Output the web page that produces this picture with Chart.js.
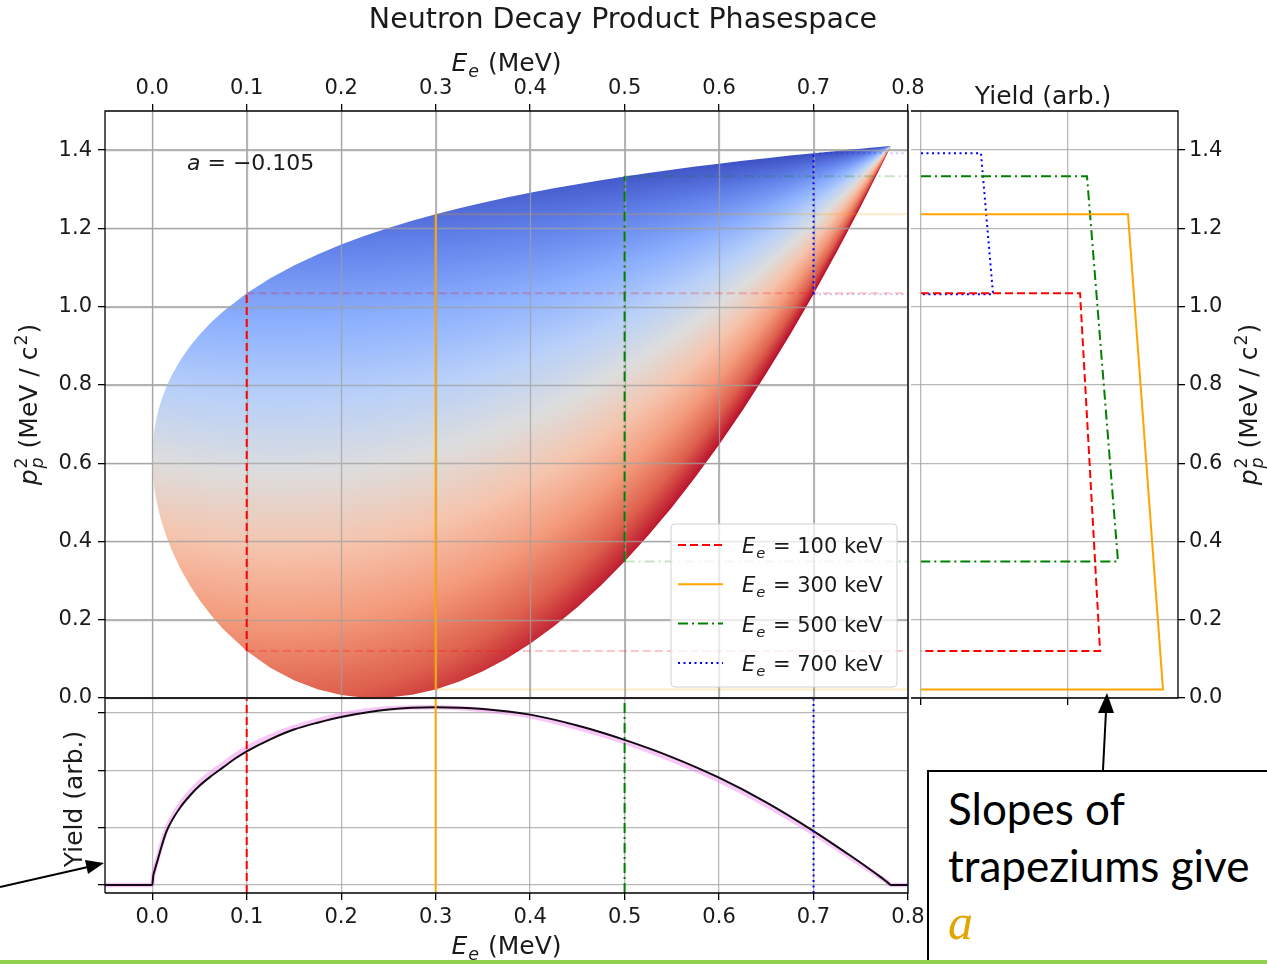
<!DOCTYPE html>
<html>
<head>
<meta charset="utf-8">
<title>Neutron Decay Product Phasespace</title>
<script src="https://cdn.jsdelivr.net/npm/chart.js@4.4.1/dist/chart.umd.min.js"></script>
<style>
  html, body { margin: 0; padding: 0; background: #fff; }
  #page { position: relative; width: 1267px; height: 964px; overflow: hidden; }
  #page canvas { position: absolute; left: 0; top: 0; }
  #note {
    position: absolute; left: 927px; top: 770px; width: 400px; height: 192px;
    box-sizing: border-box; border: 2px solid #000; background: #fff;
    padding: 8px 0 0 19px; color: #000;
    font-family: Lato, "Open Sans", sans-serif; font-size: 44px; line-height: 57px;
  }
  #note .a { font-family: "Liberation Serif", "DejaVu Serif", serif; font-style: italic; font-size: 50px; color: #e3a600; }
  #arrows { position: absolute; left: 0; top: 0; }
  #rule { position: absolute; left: 0; top: 960px; width: 1267px; height: 4px; background: #92d050; }
</style>
</head>
<body>
<div id="page">
  <canvas id="yieldChart" width="1267" height="964"></canvas>
  <canvas id="trapChart" width="1267" height="964"></canvas>
  <canvas id="phaseChart" width="1267" height="964"></canvas>
  <div id="note">Slopes of<br>trapeziums give<br><span class="a">a</span></div>
  <svg id="arrows" width="1267" height="964">
    <line x1="1103" y1="770" x2="1106" y2="711" stroke="#000" stroke-width="2"/>
    <polygon points="1107,693 1114,713 1098,713" fill="#000"/>
    <line x1="0" y1="887" x2="88" y2="867" stroke="#000" stroke-width="2"/>
    <polygon points="104,863 88,874 85,860" fill="#000"/>
  </svg>
  <div id="rule"></div>
</div>
<script>
// ---- data ----
const xTicks = [0, 0.1, 0.2, 0.3, 0.4, 0.5, 0.6, 0.7, 0.8];
const pTicks = [0, 0.2, 0.4, 0.6, 0.8, 1.0, 1.2, 1.4];
const yieldTicks = [0, 1, 2, 3];
const trapTicks = [0, 1];

// edge of the allowed region: E_e (MeV) and upper / lower p_p^2
const phaseE = [0, 0.0005, 0.001, 0.0025, 0.005, 0.0075, 0.01, 0.015, 0.02, 0.03,
  0.04, 0.05, 0.0625, 0.075, 0.1, 0.125, 0.15, 0.175, 0.2, 0.225,
  0.237, 0.25, 0.275, 0.3, 0.325, 0.35, 0.375, 0.4, 0.425, 0.45,
  0.475, 0.5, 0.525, 0.55, 0.575, 0.6, 0.625, 0.65, 0.675, 0.7,
  0.725, 0.74, 0.75, 0.76, 0.77, 0.775, 0.779, 0.782];
const phaseUpper = [0.6115, 0.6466, 0.6609, 0.6891, 0.7203, 0.7437, 0.7632, 0.7951, 0.8216, 0.8643,
  0.8989, 0.9283, 0.9600, 0.9877, 1.0343, 1.0727, 1.1052, 1.1336, 1.1586, 1.1809,
  1.1907, 1.2010, 1.2193, 1.2361, 1.2513, 1.2656, 1.2787, 1.2910, 1.3023, 1.3131,
  1.3232, 1.3326, 1.3414, 1.3498, 1.3579, 1.3654, 1.3726, 1.3795, 1.3860, 1.3922,
  1.3981, 1.4016, 1.4038, 1.4061, 1.4083, 1.4092, 1.4102, 1.4107];
const phaseLower = [0.6115, 0.5759, 0.5610, 0.5313, 0.4975, 0.4715, 0.4494, 0.4125, 0.3814, 0.3298,
  0.2872, 0.2505, 0.2109, 0.1766, 0.1204, 0.0775, 0.0452, 0.0223, 0.0077, 0.0008,
  0.0000, 0.0010, 0.0081, 0.0218, 0.0419, 0.0681, 0.1004, 0.1385, 0.1825, 0.2322,
  0.2876, 0.3486, 0.4150, 0.4869, 0.5645, 0.6472, 0.7355, 0.8290, 0.9279, 1.0320,
  1.1415, 1.2098, 1.2562, 1.3037, 1.3519, 1.3762, 1.3959, 1.4107];

// selected electron energies
const cutE = [0.1, 0.3, 0.5, 0.7];
const cutLabels = ['100 keV', '300 keV', '500 keV', '700 keV'];
const cutTop = [1.034, 1.236, 1.333, 1.392];
const cutBottom = [0.120, 0.022, 0.349, 1.032];
// trapezium right edges (yield at top and at bottom)
const trapTopYield = [1.082, 1.408, 1.129, 0.408];
const trapBottomYield = [1.218, 1.646, 1.340, 0.490];

// electron energy spectrum (bottom panel)
const yieldE = [-0.05, 0, 0.001, 0.003, 0.006, 0.01, 0.015, 0.02, 0.03, 0.04,
  0.05, 0.0625, 0.075, 0.0875, 0.1, 0.125, 0.15, 0.175, 0.2, 0.25,
  0.3, 0.35, 0.4, 0.45, 0.5, 0.55, 0.6, 0.65, 0.7, 0.74,
  0.76, 0.77, 0.778, 0.782, 0.8];
const yieldMain = [0, 0, 0.15, 0.28, 0.45, 0.68, 0.93, 1.10, 1.36, 1.56,
  1.73, 1.90, 2.05, 2.20, 2.33, 2.54, 2.71, 2.83, 2.93, 3.06,
  3.10, 3.07, 2.97, 2.78, 2.53, 2.23, 1.87, 1.44, 0.94, 0.50,
  0.27, 0.15, 0.05, 0, 0];
const yieldShade = [0, 0, 0.16, 0.30, 0.48, 0.72, 0.97, 1.15, 1.42, 1.62,
  1.79, 1.96, 2.11, 2.26, 2.39, 2.59, 2.75, 2.87, 2.97, 3.08,
  3.10, 3.05, 2.94, 2.74, 2.49, 2.18, 1.82, 1.39, 0.90, 0.47,
  0.25, 0.14, 0.05, 0, 0];

const aText = '\u22120.105';

// ---- styles ----
const cutStyles = [
  { rgb: '255,0,0', dash: [8, 4] },
  { rgb: '255,165,0', dash: [] },
  { rgb: '0,128,0', dash: [10, 4, 2, 4] },
  { rgb: '0,0,255', dash: [2, 3.5] },
];
const GRID = 'rgba(160,160,160,0.75)';
const FONT = 'DejaVu Sans';
const W = 1267, H = 964;
const TOP = 111;

// colour field constants (only used for shading the region)
const ME = 0.511, QV = 0.782;
const CW = [[59,76,192],[98,130,234],[141,176,254],[184,208,249],[221,221,221],
            [245,196,173],[244,154,123],[222,96,77],[180,4,38]];

function coolwarm(s) {
  s = Math.min(1, Math.max(0, s)) * 8;
  const i = Math.min(7, Math.floor(s)), f = s - i, a = CW[i], b = CW[i + 1];
  return [a[0] + (b[0] - a[0]) * f, a[1] + (b[1] - a[1]) * f, a[2] + (b[2] - a[2]) * f];
}

function phaseFill(context) {
  const chart = context.chart;
  const area = chart.chartArea;
  if (!area) return 'rgba(0,0,0,0)';
  if (chart.$phasePattern) return chart.$phasePattern;
  const xs = chart.scales.x, ys = chart.scales.y;
  const off = document.createElement('canvas');
  off.width = chart.width; off.height = chart.height;
  const octx = off.getContext('2d');
  const img = octx.createImageData(off.width, off.height);
  const vmax = Math.sqrt(QV * QV + 2 * QV * ME) / (QV + ME);
  for (let py = Math.floor(area.top); py < Math.ceil(area.bottom); py++) {
    const P = ys.getValueForPixel(py + 0.5);
    for (let px = Math.floor(area.left); px < Math.ceil(area.right); px++) {
      const e = xs.getValueForPixel(px + 0.5);
      if (e <= 0 || e >= QV) continue;
      const pe = Math.sqrt(e * e + 2 * e * ME), nu = QV - e;
      let c = (P - pe * pe - nu * nu) / (2 * pe * nu);
      c = Math.max(-1, Math.min(1, c));
      const rgb = coolwarm(0.5 * (1 - (pe / (e + ME)) * c / vmax));
      const k = 4 * (py * off.width + px);
      img.data[k] = rgb[0]; img.data[k + 1] = rgb[1]; img.data[k + 2] = rgb[2]; img.data[k + 3] = 255;
    }
  }
  octx.putImageData(img, 0, 0);
  chart.$phasePattern = chart.ctx.createPattern(off, 'no-repeat');
  return chart.$phasePattern;
}

// mixed italic / sub / superscript text
function richText(ctx, parts, x, y, size, align, rot, color) {
  const font = (s, it) => (it ? 'italic ' : '') + s + 'px "' + FONT + '"';
  const widths = parts.map(p => {
    ctx.font = font(size, p.i);
    const w = ctx.measureText(p.t).width;
    let extra = 0;
    if (p.sub) { ctx.font = font(size * 0.7, p.i); extra = Math.max(extra, ctx.measureText(p.sub).width + 2); }
    if (p.sup) { ctx.font = font(size * 0.7, false); extra = Math.max(extra, ctx.measureText(p.sup).width + 2); }
    return [w, extra];
  });
  const total = widths.reduce((s, w) => s + w[0] + w[1], 0);
  ctx.save();
  ctx.translate(x, y);
  if (rot) ctx.rotate(rot);
  ctx.fillStyle = color || '#1a1a1a';
  ctx.textAlign = 'left';
  ctx.textBaseline = 'alphabetic';
  let cx = align === 'left' ? 0 : -total / 2;
  parts.forEach((p, k) => {
    ctx.font = font(size, p.i);
    ctx.fillText(p.t, cx, 0);
    cx += widths[k][0];
    if (p.sub) { ctx.font = font(size * 0.7, p.i); ctx.fillText(p.sub, cx + 1, size * 0.24); }
    if (p.sup) { ctx.font = font(size * 0.7, false); ctx.fillText(p.sup, cx + 1, -size * 0.42); }
    cx += widths[k][1];
  });
  ctx.restore();
}

function axis(position, min, max, tickValues, showLabels, size, pad) {
  const horizontal = position === 'top' || position === 'bottom';
  return {
    type: 'linear', position, min, max,
    afterBuildTicks: s => { s.ticks = tickValues.map(v => ({ value: v })); },
    afterFit: s => {
      if (horizontal) s.height = size; else s.width = size;
      s.paddingLeft = s.paddingRight = s.paddingTop = s.paddingBottom = 0;
    },
    border: { display: false },
    grid: { color: GRID, lineWidth: 1.3, tickColor: '#000', tickLength: 7, tickWidth: 1.3 },
    ticks: {
      display: showLabels, color: '#1a1a1a', font: { family: FONT, size: 21 },
      padding: pad, maxRotation: 0, autoSkip: false, callback: v => v.toFixed(1)
    }
  };
}

function seg(points, style, alpha, width) {
  return {
    data: points, showLine: true, pointRadius: 0, fill: false,
    borderWidth: width || 2, borderColor: 'rgba(' + style.rgb + ',' + alpha + ')',
    borderDash: style.dash, borderCapStyle: 'butt'
  };
}

const frame = {
  id: 'frame',
  afterDatasetsDraw(chart, args, opts) {
    const { ctx, chartArea: a } = chart;
    ctx.save();
    ctx.strokeStyle = '#000'; ctx.lineWidth = 1.3;
    ctx.beginPath();
    if (opts.left !== false) { ctx.moveTo(a.left, a.bottom); ctx.lineTo(a.left, a.top); } else ctx.moveTo(a.left, a.top);
    ctx.lineTo(a.right, a.top); ctx.lineTo(a.right, a.bottom); ctx.lineTo(a.left, a.bottom);
    ctx.stroke();
    ctx.restore();
  }
};

const gridOver = {
  id: 'gridOver',
  afterDatasetDraw(chart, args) {
    if (!chart.data.datasets[args.index].isPhase) return;
    const { ctx, chartArea: a, scales: { x, y } } = chart;
    ctx.save();
    ctx.strokeStyle = GRID; ctx.lineWidth = 1.3;
    ctx.beginPath();
    x.ticks.forEach(t => { const px = Math.round(x.getPixelForValue(t.value)) + 0.5; ctx.moveTo(px, a.top); ctx.lineTo(px, a.bottom); });
    y.ticks.forEach(t => { const py = Math.round(y.getPixelForValue(t.value)) + 0.5; ctx.moveTo(a.left, py); ctx.lineTo(a.right, py); });
    ctx.stroke();
    ctx.restore();
  }
};

const E_LABEL = [{ t: 'E', i: true, sub: 'e' }, { t: ' (MeV)' }];
const P_LABEL = [{ t: 'p', i: true, sub: 'p', sup: '2' }, { t: ' (MeV / c', sup: '2' }, { t: ')' }];

const phaseDecor = {
  id: 'phaseDecor',
  afterDraw(chart) {
    const { ctx, chartArea: a } = chart;
    const cx = (a.left + a.right) / 2, cy = (a.top + a.bottom) / 2;
    richText(ctx, [{ t: 'Neutron Decay Product Phasespace' }], 623, 28, 28.5, 'center');
    richText(ctx, E_LABEL, cx, 71, 25, 'center');
    richText(ctx, P_LABEL, 37, cy, 25, 'center', -Math.PI / 2);
    richText(ctx, [{ t: 'a', i: true }, { t: ' = ' + aText }], a.left + 82, a.top + 59, 22, 'left');

    // legend, lower right
    const L = { left: a.right - 237, top: a.bottom - 174, w: 226, h: 163 };
    ctx.save();
    ctx.beginPath();
    ctx.roundRect(L.left, L.top, L.w, L.h, 4);
    ctx.fillStyle = 'rgba(255,255,255,0.75)';
    ctx.fill();
    ctx.strokeStyle = '#d0d0d0'; ctx.lineWidth = 1;
    ctx.stroke();
    cutLabels.forEach((lab, i) => {
      const yy = L.top + 21 + i * 39.3;
      ctx.beginPath();
      ctx.setLineDash(cutStyles[i].dash);
      ctx.strokeStyle = 'rgb(' + cutStyles[i].rgb + ')'; ctx.lineWidth = 2;
      ctx.moveTo(L.left + 7, yy); ctx.lineTo(L.left + 52, yy);
      ctx.stroke();
      ctx.setLineDash([]);
      richText(ctx, [{ t: 'E', i: true, sub: 'e' }, { t: ' = ' + lab }], L.left + 71, yy + 8, 21, 'left');
    });
    ctx.restore();
  }
};

const yieldDecor = {
  id: 'yieldDecor',
  afterDraw(chart) {
    const { ctx, chartArea: a } = chart;
    richText(ctx, E_LABEL, (a.left + a.right) / 2, 954, 25, 'center');
    richText(ctx, [{ t: 'Yield (arb.)' }], 82, 799, 25, 'center', -Math.PI / 2);
  }
};

const trapDecor = {
  id: 'trapDecor',
  afterDraw(chart) {
    const { ctx, chartArea: a } = chart;
    richText(ctx, [{ t: 'Yield (arb.)' }], 1043, 104, 25, 'center');
    richText(ctx, P_LABEL, 1257, (a.top + a.bottom) / 2, 25, 'center', -Math.PI / 2);
  }
};

Chart.defaults.font.family = FONT;
const common = { responsive: false, animation: false, events: [],
  plugins: { legend: { display: false }, tooltip: { enabled: false } } };

// ---- main phase-space panel ----
const xMax = 0.8;
const phaseSets = [];
cutE.forEach((e, i) => phaseSets.push(seg([{ x: e, y: cutBottom[i] }, { x: e, y: cutTop[i] }], cutStyles[i], 1)));
cutE.forEach((e, i) => {
  phaseSets.push(seg([{ x: e, y: cutTop[i] }, { x: xMax, y: cutTop[i] }], cutStyles[i], 0.22));
  phaseSets.push(seg([{ x: e, y: cutBottom[i] }, { x: xMax, y: cutBottom[i] }], cutStyles[i], 0.22));
});
phaseSets.push({
  isPhase: true, data: phaseE.map((e, i) => ({ x: e, y: phaseUpper[i] })),
  showLine: true, pointRadius: 0, borderWidth: 0, borderColor: 'rgba(0,0,0,0)',
  fill: '+1', backgroundColor: phaseFill
});
phaseSets.push({
  data: phaseE.map((e, i) => ({ x: e, y: phaseLower[i] })),
  showLine: true, pointRadius: 0, borderWidth: 0, borderColor: 'rgba(0,0,0,0)', fill: false
});

new Chart(document.getElementById('phaseChart'), {
  type: 'scatter',
  data: { datasets: phaseSets },
  options: Object.assign({}, common, {
    layout: { padding: { left: 0, top: 0, right: W - 908, bottom: H - 698 } },
    scales: {
      x: axis('top', -0.05, xMax, xTicks, true, TOP, 3),
      y: axis('left', 0, 1.5, pTicks, true, 105, 6)
    }
  }),
  plugins: [gridOver, frame, phaseDecor]
});

// ---- energy spectrum panel ----
const yMin = -0.14, yMax = 3.26;
const yieldSets = cutE.map((e, i) => seg([{ x: e, y: yMin }, { x: e, y: yMax }], cutStyles[i], 1));
yieldSets.push({
  data: yieldE.map((e, i) => ({ x: e, y: yieldMain[i] })), showLine: true, pointRadius: 0,
  borderWidth: 2, borderColor: '#140a14', fill: false, cubicInterpolationMode: 'monotone'
});
yieldSets.push({
  data: yieldE.map((e, i) => ({ x: e, y: yieldShade[i] })), showLine: true, pointRadius: 0,
  borderWidth: 4.5, borderColor: 'rgba(238,130,238,0.45)', fill: false, cubicInterpolationMode: 'monotone'
});

new Chart(document.getElementById('yieldChart'), {
  type: 'scatter',
  data: { datasets: yieldSets },
  options: Object.assign({}, common, {
    layout: { padding: { left: 0, top: 698, right: W - 908, bottom: 0 } },
    scales: {
      x: axis('bottom', -0.05, xMax, xTicks, true, H - 893, 5),
      y: axis('left', yMin, yMax, yieldTicks, false, 105, 6)
    }
  }),
  plugins: [frame, yieldDecor]
});

// ---- trapezium panel ----
const trapSets = cutE.map((e, i) => seg([
  { x: 0, y: cutTop[i] }, { x: trapTopYield[i], y: cutTop[i] },
  { x: trapBottomYield[i], y: cutBottom[i] }, { x: 0, y: cutBottom[i] }
], cutStyles[i], 1));

new Chart(document.getElementById('trapChart'), {
  type: 'scatter',
  data: { datasets: trapSets },
  options: Object.assign({}, common, {
    layout: { padding: { left: 911, top: TOP, right: 0, bottom: 0 } },
    scales: {
      x: axis('bottom', -0.068, 1.748, trapTicks, false, H - 698, 3),
      y: axis('right', 0, 1.5, pTicks, true, W - 1178, 4)
    },
    plugins: Object.assign({}, common.plugins, { frame: { left: false } })
  }),
  plugins: [frame, trapDecor]
});
</script>
</body>
</html>
